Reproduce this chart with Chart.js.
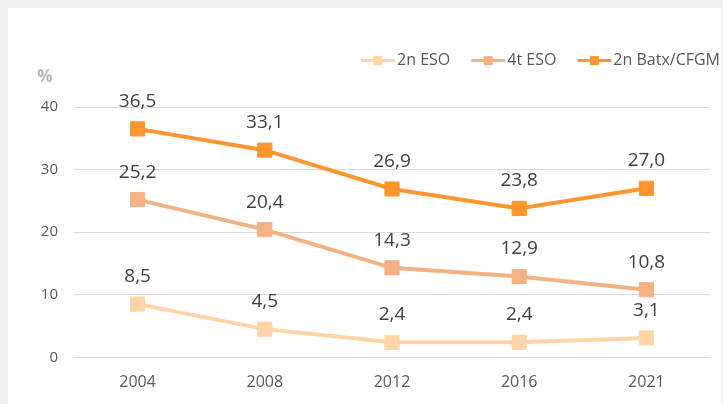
<!DOCTYPE html>
<html>
<head>
<meta charset="utf-8">
<script src="https://cdn.jsdelivr.net/npm/chart.js@4/dist/chart.umd.min.js"></script>
<style>
  html, body { margin: 0; padding: 0; background: #f0f0f0; width: 723px; height: 404px; overflow: hidden; }
  #panel { position: absolute; left: 8px; top: 8px; width: 713px; height: 396px; background: #ffffff; }
  canvas { display: block; }
</style>
</head>
<body>
<div id="panel"><canvas id="c" width="713" height="396"></canvas></div>
<script>
const categories = ['2004', '2008', '2012', '2016', '2021'];
const seriesNames = ['2n ESO', '4t ESO', '2n Batx/CFGM'];
const eso2 = [8.5, 4.5, 2.4, 2.4, 3.1];
const eso4 = [25.2, 20.4, 14.3, 12.9, 10.8];
const batx = [36.5, 33.1, 26.9, 23.8, 27.0];
const yTicks = [0, 10, 20, 30, 40];
const colors = ['#ffd5a8', '#f4b183', '#fe9630'];
const FONT = '"Open Sans", "Noto Sans", sans-serif';

function ds(label, data, color) {
  return {
    label, data,
    borderColor: color, backgroundColor: color,
    borderWidth: 4,
    pointStyle: 'rect', pointRadius: 10, pointHoverRadius: 10,
    pointBorderWidth: 1, pointBorderColor: color, pointBackgroundColor: color,
    tension: 0, fill: false
  };
}

const labelPlugin = {
  id: 'dataLabels',
  afterDatasetsDraw(chart) {
    const ctx = chart.ctx;
    ctx.save();
    ctx.font = '19px ' + FONT;
    ctx.fillStyle = '#404040';
    ctx.textAlign = 'center';
    ctx.textBaseline = 'middle';
    chart.data.datasets.forEach((d, i) => {
      const meta = chart.getDatasetMeta(i);
      meta.data.forEach((pt, j) => {
        const txt = d.data[j].toFixed(1).replace('.', ',');
        ctx.fillText(txt, pt.x, pt.y - 27.5);
      });
    });
    ctx.restore();
  }
};

const legendPlugin = {
  id: 'customLegend',
  afterDraw(chart) {
    const ctx = chart.ctx;
    ctx.save();
    ctx.font = '16px ' + FONT;
    ctx.textBaseline = 'middle';
    const y = 52.6;
    let end = 712;
    const items = chart.data.datasets.map((d) => ({ label: d.label, color: d.borderColor }));
    for (let k = items.length - 1; k >= 0; k--) {
      const it = items[k];
      const w = ctx.measureText(it.label).width;
      const tx = end - w;
      const lx1 = tx - 2, lx0 = lx1 - 34;
      ctx.strokeStyle = it.color;
      ctx.lineWidth = 3;
      ctx.beginPath(); ctx.moveTo(lx0, y); ctx.lineTo(lx1, y); ctx.stroke();
      ctx.fillStyle = it.color;
      ctx.fillRect((lx0 + lx1) / 2 - 4.5, y - 4.5, 9, 9);
      ctx.fillStyle = '#595959';
      ctx.textAlign = 'left';
      ctx.fillText(it.label, tx, y);
      end = lx0 - 21;
    }
    // unit label
    ctx.font = 'bold 17px ' + FONT;
    ctx.fillStyle = '#b3b7c2';
    ctx.textAlign = 'center';
    ctx.fillText('%', 37, 69);
    ctx.restore();
  }
};

new Chart(document.getElementById('c'), {
  type: 'line',
  data: {
    labels: categories,
    datasets: [
      ds(seriesNames[0], eso2, colors[0]),
      ds(seriesNames[1], eso4, colors[1]),
      ds(seriesNames[2], batx, colors[2])
    ]
  },
  options: {
    responsive: false,
    animation: false,
    events: [],
    layout: { padding: { top: 99, right: 3, left: 0, bottom: 0 } },
    plugins: { legend: { display: false }, tooltip: { enabled: false }, title: { display: false } },
    scales: {
      x: {
        offset: true,
        grid: { display: false, drawTicks: false },
        border: { display: false },
        ticks: { color: '#595959', font: { family: FONT, size: 16 }, padding: 16, maxRotation: 0 },
        afterFit(s) { s.height = 46.7; }
      },
      y: {
        min: 0, max: 40,
        afterBuildTicks(s) { s.ticks = yTicks.map(v => ({ value: v })); },
        grid: { color: '#d9d9d9', lineWidth: 1, drawTicks: false },
        border: { display: false },
        ticks: { color: '#595959', font: { family: FONT, size: 15 }, padding: 16 },
        afterFit(s) { s.width = 66; }
      }
    }
  },
  plugins: [labelPlugin, legendPlugin]
});
</script>
</body>
</html>
